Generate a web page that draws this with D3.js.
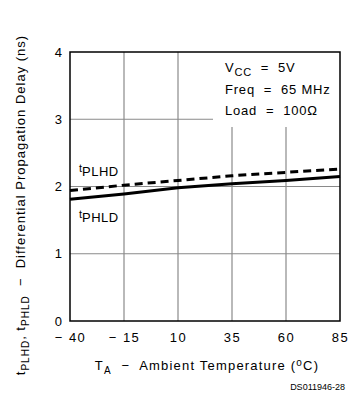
<!DOCTYPE html>
<html>
<head>
<meta charset="utf-8">
<script src="https://cdn.jsdelivr.net/npm/d3@7"></script>
<style>
  body { margin: 0; background: #fff; }
  svg text { font-family: "Liberation Sans", Arial, sans-serif; fill: #000; white-space: pre; }
</style>
</head>
<body>
<svg class="chart" width="349" height="398"></svg>
<script>
var temps = [-40, -15, 10, 35, 60, 85]
var tPLHD = [1.94, 2.02, 2.09, 2.16, 2.21, 2.26]
var tPHLD = [1.81, 1.89, 1.98, 2.04, 2.09, 2.15]
var yTicks = [0, 1, 2, 3, 4]
var notes = [["V", "CC", "  =  5V"], ["Freq  =  65 MHz", "", ""], ["Load  =  100\u03a9", "", ""]]

var margin = {left: 70, right: 9, top: 52, bottom: 77}
var width = 349, height = 398
var svg = d3.select(".chart")

var xScale = d3.scaleLinear().domain([-40, 85]).range([margin.left, width - margin.right])
var yScale = d3.scaleLinear().domain([0, 4]).range([height - margin.bottom, margin.top])

// note box area (grid stops around it)
var boxLeft = 213, boxBottom = 127

// grid
var grid = svg.append("g").attr("class", "grid")
temps.slice(1, -1).forEach(t => {
    var top = (t >= 35) ? boxBottom : yScale(4)
    grid.append("line")
      .attr("x1", xScale(t)).attr("x2", xScale(t))
      .attr("y1", top).attr("y2", yScale(0))
      .attr("stroke", "#8a8a8a").attr("stroke-width", 1.2)
})
yTicks.slice(1, -1).forEach(v => {
    var right = (v == 3) ? boxLeft : xScale(85)
    grid.append("line")
      .attr("x1", xScale(-40)).attr("x2", right)
      .attr("y1", yScale(v)).attr("y2", yScale(v))
      .attr("stroke", "#8a8a8a").attr("stroke-width", 1.2)
})

// frame
svg.append("rect")
  .attr("x", xScale(-40)).attr("y", yScale(4))
  .attr("width", xScale(85) - xScale(-40)).attr("height", yScale(0) - yScale(4))
  .attr("fill", "none").attr("stroke", "#000").attr("stroke-width", 1.5)

// axes
var xAxis = svg.append("g")
  .attr("transform", "translate(0," + yScale(0) + ")")
  .call(d3.axisBottom(xScale).tickValues(temps).tickSize(0).tickPadding(12)
        .tickFormat(d => d < 0 ? "\u2212 " + Math.abs(d) : d))
xAxis.select(".domain").remove()
xAxis.selectAll("text").attr("font-size", "13px").attr("letter-spacing", "1.5px")

var yAxis = svg.append("g")
  .attr("transform", "translate(" + xScale(-40) + ",0)")
  .call(d3.axisLeft(yScale).tickValues(yTicks).tickSize(0).tickPadding(8).tickFormat(d3.format("d")))
yAxis.select(".domain").remove()
yAxis.selectAll("text").attr("font-size", "13px")

// series
var line = d3.line().x((d, i) => xScale(temps[i])).y(d => yScale(d))
svg.append("path").datum(tPHLD)
  .attr("d", line).attr("fill", "none")
  .attr("stroke", "#000").attr("stroke-width", 3)
svg.append("path").datum(tPLHD)
  .attr("d", line).attr("fill", "none")
  .attr("stroke", "#000").attr("stroke-width", 3).attr("stroke-dasharray", "8,5")

// series labels
function subLabel(x, y, main, sub, size) {
    var t = svg.append("text").attr("x", x).attr("y", y).attr("font-size", size + "px")
    t.append("tspan").attr("font-size", (size - 2) + "px").attr("dy", -4).text(main)
    t.append("tspan").attr("dy", 4).attr("letter-spacing", "0.5px").text(sub)
    return t
}
subLabel(79, 176, "t", "PLHD", 13)
subLabel(79, 222, "t", "PHLD", 13)

// notes
notes.forEach((n, i) => {
    var t = svg.append("text").attr("x", 225).attr("y", 72 + i * 21.5)
      .attr("font-size", "13px").attr("letter-spacing", "0.8px")
    t.append("tspan").text(n[0])
    if (n[1]) {
        t.append("tspan").attr("dy", 4).attr("font-size", "11px").text(n[1])
        t.append("tspan").attr("dy", -4).text(n[2])
    }
})

// axis titles
var xt = svg.append("text").attr("x", 207).attr("y", 370)
  .attr("text-anchor", "middle").attr("font-size", "13px").attr("letter-spacing", "1.2px")
xt.append("tspan").text("T")
xt.append("tspan").attr("dy", 4).attr("font-size", "10px").text("A")
xt.append("tspan").attr("dy", -4).text("  \u2212  Ambient Temperature (")
xt.append("tspan").attr("dy", -4).attr("font-size", "10px").text("o")
xt.append("tspan").attr("dy", 4).text("C)")

var yt = svg.append("text")
  .attr("transform", "translate(25,205) rotate(-90)")
  .attr("text-anchor", "middle").attr("font-size", "13px").attr("letter-spacing", "1px")
yt.append("tspan").text("t")
yt.append("tspan").attr("dy", 4).attr("font-size", "10px").text("PLHD")
yt.append("tspan").attr("dy", -4).text(", t")
yt.append("tspan").attr("dy", 4).attr("font-size", "10px").text("PHLD")
yt.append("tspan").attr("dy", -4).text("  \u2212  Differential Propagation Delay (ns)")

svg.append("text").attr("x", 345).attr("y", 390)
  .attr("text-anchor", "end").attr("font-size", "9px").text("DS011946-28")
</script>
</body>
</html>
